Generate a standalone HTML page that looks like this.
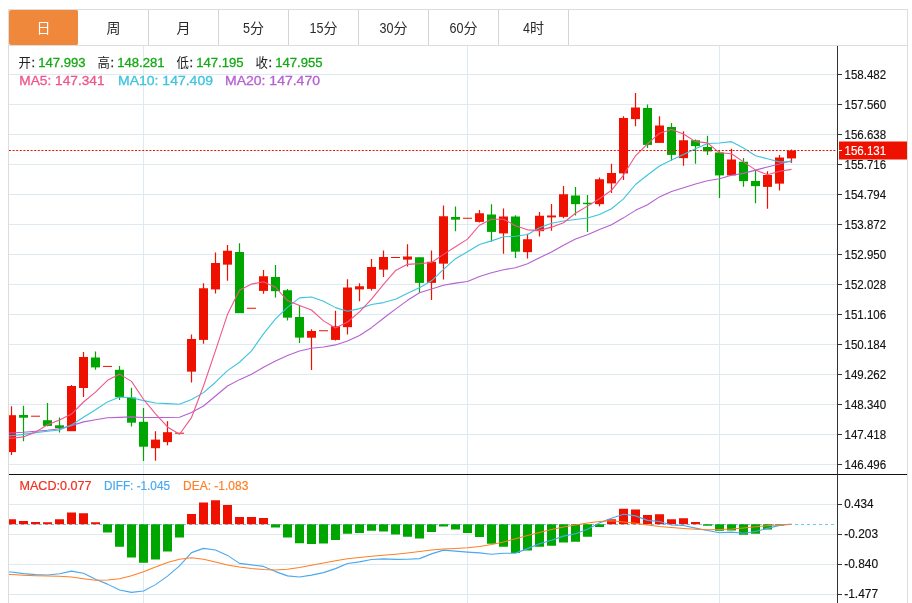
<!DOCTYPE html>
<html><head><meta charset="utf-8"><title>K</title>
<style>
html,body{margin:0;padding:0;background:#fff;}
body{width:912px;height:603px;position:relative;overflow:hidden;font-family:"Liberation Sans",sans-serif;}
#box{position:absolute;left:8px;top:9px;width:898px;height:640px;border:1px solid #ddd;}
#tabs{position:absolute;left:0;top:0;width:898px;height:35px;border-bottom:1px solid #ddd;}
.tab{position:absolute;top:0;width:69px;height:35px;border-right:1px solid #d4d4d4;}
.tab.on{background:#f0883c;border-right-color:#fff;border-radius:2px;}
</style></head><body>
<div id="box"><div id="tabs">
<div class="tab on" style="left:0px"></div>
<div class="tab" style="left:70px"></div>
<div class="tab" style="left:140px"></div>
<div class="tab" style="left:210px"></div>
<div class="tab" style="left:280px"></div>
<div class="tab" style="left:350px"></div>
<div class="tab" style="left:420px"></div>
<div class="tab" style="left:490px"></div>
</div></div>
<svg width="912" height="603" viewBox="0 0 912 603" style="position:absolute;left:0;top:0;will-change:transform">
<defs><clipPath id="cl"><rect x="9" y="46" width="828" height="557"/></clipPath></defs>
<rect x="9" y="74" width="828" height="1" fill="#dfe9f0"/>
<rect x="9" y="104" width="828" height="1" fill="#dfe9f0"/>
<rect x="9" y="134" width="828" height="1" fill="#dfe9f0"/>
<rect x="9" y="164" width="828" height="1" fill="#dfe9f0"/>
<rect x="9" y="194" width="828" height="1" fill="#dfe9f0"/>
<rect x="9" y="224" width="828" height="1" fill="#dfe9f0"/>
<rect x="9" y="254" width="828" height="1" fill="#dfe9f0"/>
<rect x="9" y="284" width="828" height="1" fill="#dfe9f0"/>
<rect x="9" y="314" width="828" height="1" fill="#dfe9f0"/>
<rect x="9" y="344" width="828" height="1" fill="#dfe9f0"/>
<rect x="9" y="374" width="828" height="1" fill="#dfe9f0"/>
<rect x="9" y="404" width="828" height="1" fill="#dfe9f0"/>
<rect x="9" y="434" width="828" height="1" fill="#dfe9f0"/>
<rect x="9" y="464" width="828" height="1" fill="#dfe9f0"/>
<rect x="9" y="504" width="828" height="1" fill="#dfe9f0"/>
<rect x="9" y="534" width="828" height="1" fill="#dfe9f0"/>
<rect x="9" y="564" width="828" height="1" fill="#dfe9f0"/>
<rect x="9" y="594" width="828" height="1" fill="#dfe9f0"/>
<rect x="143" y="46" width="1" height="557" fill="#dfe9f0"/>
<rect x="467" y="46" width="1" height="557" fill="#dfe9f0"/>
<rect x="719" y="46" width="1" height="557" fill="#dfe9f0"/>
<rect x="9" y="474" width="898" height="1" fill="#111"/>
<rect x="837" y="46" width="1" height="557" fill="#333"/>
<g clip-path="url(#cl)">
<line x1="9" y1="524.5" x2="834" y2="524.5" stroke="#6ec8eb" stroke-width="1" stroke-dasharray="3,3"/>
<rect x="10.9" y="406.3" width="1.2" height="48.7" fill="#ee1100"/>
<rect x="7" y="415.2" width="9" height="36.9" fill="#ee1100"/>
<rect x="22.9" y="405.8" width="1.2" height="35.4" fill="#00a600"/>
<rect x="19" y="415" width="9" height="2.7" fill="#00a600"/>
<rect x="31" y="415.7" width="9" height="1" fill="#ee1100"/>
<rect x="46.9" y="403" width="1.2" height="23.3" fill="#00a600"/>
<rect x="43" y="420.2" width="9" height="5.7" fill="#00a600"/>
<rect x="58.9" y="417.5" width="1.2" height="15" fill="#00a600"/>
<rect x="55" y="425.3" width="9" height="2.9" fill="#00a600"/>
<rect x="70.9" y="385" width="1.2" height="45.8" fill="#ee1100"/>
<rect x="67" y="386" width="9" height="45.2" fill="#ee1100"/>
<rect x="82.9" y="352" width="1.2" height="45" fill="#ee1100"/>
<rect x="79" y="357" width="9" height="31" fill="#ee1100"/>
<rect x="94.9" y="351.5" width="1.2" height="18.25" fill="#00a600"/>
<rect x="91" y="357.5" width="9" height="9.9" fill="#00a600"/>
<rect x="103" y="365.9" width="9" height="1" fill="#ee1100"/>
<rect x="118.9" y="366" width="1.2" height="34" fill="#00a600"/>
<rect x="115" y="369.8" width="9" height="27.4" fill="#00a600"/>
<rect x="130.9" y="387.8" width="1.2" height="38.7" fill="#00a600"/>
<rect x="127" y="397.5" width="9" height="25.2" fill="#00a600"/>
<rect x="142.9" y="408" width="1.2" height="53" fill="#00a600"/>
<rect x="139" y="421.8" width="9" height="24.9" fill="#00a600"/>
<rect x="154.9" y="431.2" width="1.2" height="29.5" fill="#ee1100"/>
<rect x="151" y="439.6" width="9" height="8.6" fill="#ee1100"/>
<rect x="166.9" y="421.2" width="1.2" height="24.1" fill="#ee1100"/>
<rect x="163" y="432.2" width="9" height="9.9" fill="#ee1100"/>
<rect x="175" y="432.7" width="9" height="1" fill="#ee1100"/>
<rect x="190.9" y="334.5" width="1.2" height="48" fill="#ee1100"/>
<rect x="187" y="339" width="9" height="32.65" fill="#ee1100"/>
<rect x="202.9" y="283.25" width="1.2" height="60.5" fill="#ee1100"/>
<rect x="199" y="288.25" width="9" height="51.65" fill="#ee1100"/>
<rect x="214.9" y="252.5" width="1.2" height="41" fill="#ee1100"/>
<rect x="211" y="263" width="9" height="26.4" fill="#ee1100"/>
<rect x="226.9" y="245" width="1.2" height="35.75" fill="#ee1100"/>
<rect x="223" y="250.75" width="9" height="13.9" fill="#ee1100"/>
<rect x="238.9" y="243.25" width="1.2" height="69.5" fill="#00a600"/>
<rect x="235" y="252" width="9" height="61.15" fill="#00a600"/>
<rect x="247" y="307.75" width="9" height="1" fill="#ee1100"/>
<rect x="262.9" y="270" width="1.2" height="23.75" fill="#ee1100"/>
<rect x="259" y="276.25" width="9" height="14.65" fill="#ee1100"/>
<rect x="274.9" y="265" width="1.2" height="32.5" fill="#00a600"/>
<rect x="271" y="277" width="9" height="14.15" fill="#00a600"/>
<rect x="286.9" y="289" width="1.2" height="31.5" fill="#00a600"/>
<rect x="283" y="290.25" width="9" height="27.4" fill="#00a600"/>
<rect x="298.9" y="305" width="1.2" height="38" fill="#00a600"/>
<rect x="295" y="317" width="9" height="20.6" fill="#00a600"/>
<rect x="310.9" y="329.25" width="1.2" height="40.75" fill="#ee1100"/>
<rect x="307" y="331" width="9" height="6.7" fill="#ee1100"/>
<rect x="319" y="330.25" width="9" height="1" fill="#ee1100"/>
<rect x="334.9" y="310.75" width="1.2" height="29.75" fill="#ee1100"/>
<rect x="331" y="326.25" width="9" height="13.65" fill="#ee1100"/>
<rect x="346.9" y="279.25" width="1.2" height="55.25" fill="#ee1100"/>
<rect x="343" y="287.5" width="9" height="39.65" fill="#ee1100"/>
<rect x="358.9" y="283.25" width="1.2" height="18" fill="#ee1100"/>
<rect x="355" y="286.25" width="9" height="3.15" fill="#ee1100"/>
<rect x="370.9" y="259" width="1.2" height="31.5" fill="#ee1100"/>
<rect x="367" y="267" width="9" height="21.9" fill="#ee1100"/>
<rect x="382.9" y="250.5" width="1.2" height="26.5" fill="#ee1100"/>
<rect x="379" y="257" width="9" height="12.65" fill="#ee1100"/>
<rect x="391" y="257" width="9" height="1" fill="#ee1100"/>
<rect x="406.9" y="244.25" width="1.2" height="22.25" fill="#ee1100"/>
<rect x="403" y="256.5" width="9" height="3.15" fill="#ee1100"/>
<rect x="418.9" y="257.25" width="1.2" height="35.25" fill="#00a600"/>
<rect x="415" y="257.25" width="9" height="25.65" fill="#00a600"/>
<rect x="430.9" y="250.5" width="1.2" height="49.5" fill="#ee1100"/>
<rect x="427" y="261.75" width="9" height="21.15" fill="#ee1100"/>
<rect x="442.9" y="205.5" width="1.2" height="74" fill="#ee1100"/>
<rect x="439" y="216.25" width="9" height="47.4" fill="#ee1100"/>
<rect x="454.9" y="206.5" width="1.2" height="24.75" fill="#00a600"/>
<rect x="451" y="217" width="9" height="2.65" fill="#00a600"/>
<rect x="463" y="217.75" width="9" height="1" fill="#ee1100"/>
<rect x="478.9" y="210" width="1.2" height="12.5" fill="#ee1100"/>
<rect x="475" y="213.25" width="9" height="8.65" fill="#ee1100"/>
<rect x="490.9" y="204.25" width="1.2" height="37.5" fill="#00a600"/>
<rect x="487" y="214.5" width="9" height="17.4" fill="#00a600"/>
<rect x="502.9" y="208.5" width="1.2" height="45.25" fill="#ee1100"/>
<rect x="499" y="216.5" width="9" height="16.9" fill="#ee1100"/>
<rect x="514.9" y="215.25" width="1.2" height="42.75" fill="#00a600"/>
<rect x="511" y="216.5" width="9" height="35.15" fill="#00a600"/>
<rect x="526.9" y="233.75" width="1.2" height="24.75" fill="#ee1100"/>
<rect x="523" y="239.25" width="9" height="12.9" fill="#ee1100"/>
<rect x="538.9" y="212" width="1.2" height="24.5" fill="#ee1100"/>
<rect x="535" y="215.75" width="9" height="15.4" fill="#ee1100"/>
<rect x="550.9" y="204" width="1.2" height="26.75" fill="#ee1100"/>
<rect x="547" y="215.5" width="9" height="1.9" fill="#ee1100"/>
<rect x="562.9" y="186" width="1.2" height="32.25" fill="#ee1100"/>
<rect x="559" y="194.25" width="9" height="22.65" fill="#ee1100"/>
<rect x="574.9" y="187" width="1.2" height="28.5" fill="#00a600"/>
<rect x="571" y="195.5" width="9" height="8.65" fill="#00a600"/>
<rect x="586.9" y="195" width="1.2" height="37" fill="#00a600"/>
<rect x="583" y="202.75" width="9" height="1.4" fill="#00a600"/>
<rect x="598.9" y="177.5" width="1.2" height="28.75" fill="#ee1100"/>
<rect x="595" y="179.25" width="9" height="24.9" fill="#ee1100"/>
<rect x="610.9" y="163.75" width="1.2" height="29.25" fill="#ee1100"/>
<rect x="607" y="173" width="9" height="10.4" fill="#ee1100"/>
<rect x="622.9" y="116.25" width="1.2" height="63.75" fill="#ee1100"/>
<rect x="619" y="118" width="9" height="55.4" fill="#ee1100"/>
<rect x="634.9" y="93" width="1.2" height="33.25" fill="#ee1100"/>
<rect x="631" y="107.5" width="9" height="11.65" fill="#ee1100"/>
<rect x="646.9" y="104.5" width="1.2" height="43.5" fill="#00a600"/>
<rect x="643" y="108" width="9" height="36.9" fill="#00a600"/>
<rect x="658.9" y="116.25" width="1.2" height="26.25" fill="#ee1100"/>
<rect x="655" y="125.5" width="9" height="17.4" fill="#ee1100"/>
<rect x="670.9" y="123" width="1.2" height="37.5" fill="#00a600"/>
<rect x="667" y="127" width="9" height="27.9" fill="#00a600"/>
<rect x="682.9" y="131.25" width="1.2" height="34.5" fill="#ee1100"/>
<rect x="679" y="140.25" width="9" height="17.9" fill="#ee1100"/>
<rect x="694.9" y="139.5" width="1.2" height="24.25" fill="#00a600"/>
<rect x="691" y="140.25" width="9" height="5.9" fill="#00a600"/>
<rect x="706.9" y="135.75" width="1.2" height="19.25" fill="#00a600"/>
<rect x="703" y="147" width="9" height="4.4" fill="#00a600"/>
<rect x="718.9" y="151.25" width="1.2" height="46.75" fill="#00a600"/>
<rect x="715" y="152.5" width="9" height="22.9" fill="#00a600"/>
<rect x="730.9" y="148.75" width="1.2" height="26.25" fill="#ee1100"/>
<rect x="727" y="159.5" width="9" height="15.9" fill="#ee1100"/>
<rect x="742.9" y="158" width="1.2" height="28.75" fill="#00a600"/>
<rect x="739" y="161.75" width="9" height="19.4" fill="#00a600"/>
<rect x="754.9" y="170" width="1.2" height="33.25" fill="#00a600"/>
<rect x="751" y="181" width="9" height="5.15" fill="#00a600"/>
<rect x="766.9" y="171.25" width="1.2" height="37.5" fill="#ee1100"/>
<rect x="763" y="175" width="9" height="11.9" fill="#ee1100"/>
<rect x="778.9" y="155" width="1.2" height="35.5" fill="#ee1100"/>
<rect x="775" y="157.5" width="9" height="26.15" fill="#ee1100"/>
<rect x="790.9" y="149.5" width="1.2" height="13.5" fill="#ee1100"/>
<rect x="787" y="150.5" width="9" height="7.9" fill="#ee1100"/>
<rect x="7" y="519.25" width="9" height="5" fill="#ee1100"/>
<rect x="19" y="521" width="9" height="3.25" fill="#ee1100"/>
<rect x="31" y="522" width="9" height="2.25" fill="#ee1100"/>
<rect x="43" y="522.25" width="9" height="2" fill="#ee1100"/>
<rect x="55" y="519.25" width="9" height="5" fill="#ee1100"/>
<rect x="67" y="512.5" width="9" height="11.75" fill="#ee1100"/>
<rect x="79" y="513.25" width="9" height="11" fill="#ee1100"/>
<rect x="91" y="522.25" width="9" height="2" fill="#ee1100"/>
<rect x="103" y="524.25" width="9" height="8.25" fill="#00a600"/>
<rect x="115" y="524.25" width="9" height="22.5" fill="#00a600"/>
<rect x="127" y="524.25" width="9" height="33.25" fill="#00a600"/>
<rect x="139" y="524.25" width="9" height="38.5" fill="#00a600"/>
<rect x="151" y="524.25" width="9" height="35.25" fill="#00a600"/>
<rect x="163" y="524.25" width="9" height="27.25" fill="#00a600"/>
<rect x="175" y="524.25" width="9" height="13.25" fill="#00a600"/>
<rect x="187" y="514" width="9" height="10.25" fill="#ee1100"/>
<rect x="199" y="502.5" width="9" height="21.75" fill="#ee1100"/>
<rect x="211" y="500.25" width="9" height="24" fill="#ee1100"/>
<rect x="223" y="505" width="9" height="19.25" fill="#ee1100"/>
<rect x="235" y="517" width="9" height="7.25" fill="#ee1100"/>
<rect x="247" y="517" width="9" height="7.25" fill="#ee1100"/>
<rect x="259" y="518" width="9" height="6.25" fill="#ee1100"/>
<rect x="271" y="524.25" width="9" height="3.25" fill="#00a600"/>
<rect x="283" y="524.25" width="9" height="13.25" fill="#00a600"/>
<rect x="295" y="524.25" width="9" height="19" fill="#00a600"/>
<rect x="307" y="524.25" width="9" height="19.75" fill="#00a600"/>
<rect x="319" y="524.25" width="9" height="19.25" fill="#00a600"/>
<rect x="331" y="524.25" width="9" height="15.75" fill="#00a600"/>
<rect x="343" y="524.25" width="9" height="9.5" fill="#00a600"/>
<rect x="355" y="524.25" width="9" height="8.75" fill="#00a600"/>
<rect x="367" y="524.25" width="9" height="6.5" fill="#00a600"/>
<rect x="379" y="524.25" width="9" height="7.25" fill="#00a600"/>
<rect x="391" y="524.25" width="9" height="10.25" fill="#00a600"/>
<rect x="403" y="524.25" width="9" height="12.5" fill="#00a600"/>
<rect x="415" y="524.25" width="9" height="14.25" fill="#00a600"/>
<rect x="427" y="524.25" width="9" height="7.75" fill="#00a600"/>
<rect x="439" y="524.25" width="9" height="2.25" fill="#00a600"/>
<rect x="451" y="524.25" width="9" height="5.25" fill="#00a600"/>
<rect x="463" y="524.25" width="9" height="8.75" fill="#00a600"/>
<rect x="475" y="524.25" width="9" height="12.75" fill="#00a600"/>
<rect x="487" y="524.25" width="9" height="19.5" fill="#00a600"/>
<rect x="499" y="524.25" width="9" height="22.5" fill="#00a600"/>
<rect x="511" y="524.25" width="9" height="28.75" fill="#00a600"/>
<rect x="523" y="524.25" width="9" height="26.25" fill="#00a600"/>
<rect x="535" y="524.25" width="9" height="22.5" fill="#00a600"/>
<rect x="547" y="524.25" width="9" height="21.5" fill="#00a600"/>
<rect x="559" y="524.25" width="9" height="18.25" fill="#00a600"/>
<rect x="571" y="524.25" width="9" height="17.5" fill="#00a600"/>
<rect x="583" y="524.25" width="9" height="12.5" fill="#00a600"/>
<rect x="595" y="524.25" width="9" height="2.75" fill="#00a600"/>
<rect x="607" y="519.25" width="9" height="5" fill="#ee1100"/>
<rect x="619" y="508.75" width="9" height="15.5" fill="#ee1100"/>
<rect x="631" y="509.5" width="9" height="14.75" fill="#ee1100"/>
<rect x="643" y="515" width="9" height="9.25" fill="#ee1100"/>
<rect x="655" y="514.25" width="9" height="10" fill="#ee1100"/>
<rect x="667" y="519.25" width="9" height="5" fill="#ee1100"/>
<rect x="679" y="518.25" width="9" height="6" fill="#ee1100"/>
<rect x="691" y="522" width="9" height="2.25" fill="#ee1100"/>
<rect x="703" y="524.25" width="9" height="1.5" fill="#00a600"/>
<rect x="715" y="524.25" width="9" height="6.5" fill="#00a600"/>
<rect x="727" y="524.25" width="9" height="6.25" fill="#00a600"/>
<rect x="739" y="524.25" width="9" height="10.5" fill="#00a600"/>
<rect x="751" y="524.25" width="9" height="9.5" fill="#00a600"/>
<rect x="763" y="524.25" width="9" height="5.25" fill="#00a600"/>
<rect x="775" y="524.25" width="9" height="1.25" fill="#00a600"/>
<polyline fill="none" stroke="#b560d0" stroke-width="1.1" stroke-linejoin="round" points="-0.50,433.30 11.50,433.00 23.50,432.30 35.50,431.30 47.50,430.30 59.50,428.80 71.50,425.60 83.50,421.90 95.50,419.80 107.50,417.70 119.50,417.40 131.50,416.90 143.50,417.50 155.50,417.50 167.50,417.50 179.50,417.30 191.50,412.60 203.50,406.00 215.50,396.00 227.50,386.00 239.50,379.63 251.50,374.28 263.50,367.23 275.50,360.96 287.50,355.54 299.50,351.01 311.50,348.26 323.50,346.95 335.50,344.91 347.50,340.97 359.50,335.44 371.50,327.68 383.50,318.21 395.50,309.11 407.50,300.32 419.50,292.78 431.50,288.92 443.50,285.32 455.50,283.13 467.50,281.51 479.50,276.53 491.50,272.70 503.50,269.71 515.50,267.74 527.50,263.83 539.50,257.76 551.50,251.99 563.50,245.16 575.50,239.04 587.50,234.85 599.50,229.50 611.50,224.80 623.50,217.85 635.50,210.35 647.50,204.75 659.50,196.90 671.50,191.54 683.50,187.74 695.50,184.06 707.50,180.70 719.50,178.79 731.50,175.19 743.50,173.40 755.50,170.12 767.50,166.91 779.50,164.00 791.50,160.75"/>
<polyline fill="none" stroke="#3cc4de" stroke-width="1.1" stroke-linejoin="round" points="-0.50,436.10 11.50,435.80 23.50,434.40 35.50,432.60 47.50,431.30 59.50,430.00 71.50,425.00 83.50,417.30 95.50,409.80 107.50,401.90 119.50,397.02 131.50,397.73 143.50,400.63 155.50,402.97 167.50,403.64 179.50,404.18 191.50,399.48 203.50,392.61 215.50,382.21 227.50,370.64 239.50,362.24 251.50,350.83 263.50,333.82 275.50,318.94 287.50,307.44 299.50,297.84 311.50,297.04 323.50,301.29 335.50,307.62 347.50,311.29 359.50,308.64 371.50,304.52 383.50,302.59 395.50,299.27 407.50,293.19 419.50,287.73 431.50,280.80 443.50,269.35 455.50,258.65 467.50,251.72 479.50,244.43 491.50,240.88 503.50,236.82 515.50,236.20 527.50,234.47 539.50,227.80 551.50,223.18 563.50,220.97 575.50,219.43 587.50,217.97 599.50,214.57 611.50,208.72 623.50,198.88 635.50,184.50 647.50,175.03 659.50,166.00 671.50,159.90 683.50,154.50 695.50,148.70 707.50,143.43 719.50,143.00 731.50,141.65 743.50,147.93 755.50,155.75 767.50,158.80 779.50,162.00 791.50,161.60"/>
<polyline fill="none" stroke="#f0558a" stroke-width="1.1" stroke-linejoin="round" points="-0.50,439.20 11.50,438.20 23.50,436.90 35.50,432.10 47.50,424.80 59.50,419.90 71.50,414.06 83.50,402.00 95.50,392.16 107.50,380.34 119.50,374.14 131.50,381.40 143.50,399.26 155.50,413.78 167.50,426.94 179.50,434.22 191.50,417.56 203.50,385.95 215.50,350.63 227.50,314.34 239.50,290.25 251.50,284.10 263.50,281.70 275.50,287.25 287.50,300.55 299.50,305.44 311.50,309.99 323.50,320.89 335.50,327.99 347.50,322.04 359.50,311.85 371.50,299.05 383.50,284.30 395.50,270.55 407.50,264.35 419.50,263.60 431.50,262.55 443.50,254.40 455.50,246.75 467.50,239.10 479.50,225.25 491.50,219.20 503.50,219.25 515.50,225.65 527.50,229.85 539.50,230.35 551.50,227.15 563.50,222.70 575.50,213.20 587.50,206.10 599.50,198.80 611.50,190.30 623.50,175.05 635.50,155.80 647.50,143.95 659.50,133.20 671.50,129.50 683.50,133.95 695.50,141.60 707.50,142.90 719.50,152.80 731.50,153.80 743.50,161.90 755.50,169.90 767.50,174.70 779.50,171.20 791.50,169.40"/>
<polyline fill="none" stroke="#4aa8f0" stroke-width="1.1" stroke-linejoin="round" points="-0.50,572.30 11.50,572.00 23.50,573.62 35.50,574.62 47.50,575.00 59.50,573.75 71.50,571.12 83.50,573.25 95.50,579.25 107.50,584.12 119.50,590.00 131.50,592.38 143.50,591.00 155.50,584.62 167.50,576.12 179.50,565.88 191.50,552.62 203.50,548.38 215.50,550.00 227.50,555.38 239.50,563.38 251.50,564.88 263.50,566.38 275.50,571.62 287.50,575.88 299.50,577.00 311.50,575.12 323.50,572.62 335.50,568.62 347.50,563.50 359.50,561.88 371.50,559.50 383.50,558.88 395.50,559.38 407.50,559.25 419.50,558.62 431.50,553.88 443.50,550.12 455.50,551.12 467.50,552.12 479.50,552.88 491.50,554.25 503.50,553.25 515.50,553.12 527.50,548.62 539.50,543.75 551.50,540.25 563.50,536.12 575.50,533.75 587.50,529.25 599.50,522.88 611.50,518.25 623.50,514.25 635.50,515.88 647.50,520.38 659.50,521.50 671.50,525.00 683.50,525.50 695.50,528.12 707.50,530.50 719.50,532.75 731.50,532.12 743.50,533.25 755.50,531.50 767.50,528.38 779.50,525.38 791.50,524.25"/>
<polyline fill="none" stroke="#ff7f27" stroke-width="1.1" stroke-linejoin="round" points="-0.50,574.40 11.50,574.50 23.50,575.25 35.50,575.75 47.50,576.00 59.50,576.25 71.50,577.00 83.50,578.75 95.50,580.25 107.50,580.00 119.50,578.75 131.50,575.75 143.50,571.75 155.50,567.00 167.50,562.50 179.50,559.25 191.50,557.75 203.50,559.25 215.50,562.00 227.50,565.00 239.50,567.00 251.50,568.50 263.50,569.50 275.50,570.00 287.50,569.25 299.50,567.50 311.50,565.25 323.50,563.00 335.50,560.75 347.50,558.75 359.50,557.50 371.50,556.25 383.50,555.25 395.50,554.25 407.50,553.00 419.50,551.50 431.50,550.00 443.50,549.00 455.50,548.50 467.50,547.75 479.50,546.50 491.50,544.50 503.50,542.00 515.50,538.75 527.50,535.50 539.50,532.50 551.50,529.50 563.50,527.00 575.50,525.00 587.50,523.00 599.50,521.50 611.50,520.75 623.50,522.00 635.50,523.25 647.50,525.00 659.50,526.50 671.50,527.50 683.50,528.50 695.50,529.25 707.50,529.75 719.50,529.50 731.50,529.00 743.50,528.00 755.50,526.75 767.50,525.75 779.50,524.75 791.50,524.25"/>
<line x1="9" y1="150.5" x2="837" y2="150.5" stroke="#ee1100" stroke-width="1" stroke-dasharray="2,1.6"/>
</g>
<rect x="839" y="141.5" width="68" height="18" fill="#ee1100"/>
<rect x="838" y="74" width="4" height="1" fill="#333"/>
<text x="844.5" y="78.5" font-family="Liberation Sans, sans-serif" font-size="12.3" stroke-width="0.15" paint-order="stroke" fill="#111" stroke="#111" textLength="41.6" lengthAdjust="spacingAndGlyphs">158.482</text>
<rect x="838" y="104" width="4" height="1" fill="#333"/>
<text x="844.5" y="108.5" font-family="Liberation Sans, sans-serif" font-size="12.3" stroke-width="0.15" paint-order="stroke" fill="#111" stroke="#111" textLength="41.6" lengthAdjust="spacingAndGlyphs">157.560</text>
<rect x="838" y="134" width="4" height="1" fill="#333"/>
<text x="844.5" y="138.5" font-family="Liberation Sans, sans-serif" font-size="12.3" stroke-width="0.15" paint-order="stroke" fill="#111" stroke="#111" textLength="41.6" lengthAdjust="spacingAndGlyphs">156.638</text>
<rect x="838" y="164" width="4" height="1" fill="#333"/>
<text x="844.5" y="168.5" font-family="Liberation Sans, sans-serif" font-size="12.3" stroke-width="0.15" paint-order="stroke" fill="#111" stroke="#111" textLength="41.6" lengthAdjust="spacingAndGlyphs">155.716</text>
<rect x="838" y="194" width="4" height="1" fill="#333"/>
<text x="844.5" y="198.5" font-family="Liberation Sans, sans-serif" font-size="12.3" stroke-width="0.15" paint-order="stroke" fill="#111" stroke="#111" textLength="41.6" lengthAdjust="spacingAndGlyphs">154.794</text>
<rect x="838" y="224" width="4" height="1" fill="#333"/>
<text x="844.5" y="228.5" font-family="Liberation Sans, sans-serif" font-size="12.3" stroke-width="0.15" paint-order="stroke" fill="#111" stroke="#111" textLength="41.6" lengthAdjust="spacingAndGlyphs">153.872</text>
<rect x="838" y="254" width="4" height="1" fill="#333"/>
<text x="844.5" y="258.5" font-family="Liberation Sans, sans-serif" font-size="12.3" stroke-width="0.15" paint-order="stroke" fill="#111" stroke="#111" textLength="41.6" lengthAdjust="spacingAndGlyphs">152.950</text>
<rect x="838" y="284" width="4" height="1" fill="#333"/>
<text x="844.5" y="288.5" font-family="Liberation Sans, sans-serif" font-size="12.3" stroke-width="0.15" paint-order="stroke" fill="#111" stroke="#111" textLength="41.6" lengthAdjust="spacingAndGlyphs">152.028</text>
<rect x="838" y="314" width="4" height="1" fill="#333"/>
<text x="844.5" y="318.5" font-family="Liberation Sans, sans-serif" font-size="12.3" stroke-width="0.15" paint-order="stroke" fill="#111" stroke="#111" textLength="41.6" lengthAdjust="spacingAndGlyphs">151.106</text>
<rect x="838" y="344" width="4" height="1" fill="#333"/>
<text x="844.5" y="348.5" font-family="Liberation Sans, sans-serif" font-size="12.3" stroke-width="0.15" paint-order="stroke" fill="#111" stroke="#111" textLength="41.6" lengthAdjust="spacingAndGlyphs">150.184</text>
<rect x="838" y="374" width="4" height="1" fill="#333"/>
<text x="844.5" y="378.5" font-family="Liberation Sans, sans-serif" font-size="12.3" stroke-width="0.15" paint-order="stroke" fill="#111" stroke="#111" textLength="41.6" lengthAdjust="spacingAndGlyphs">149.262</text>
<rect x="838" y="404" width="4" height="1" fill="#333"/>
<text x="844.5" y="408.5" font-family="Liberation Sans, sans-serif" font-size="12.3" stroke-width="0.15" paint-order="stroke" fill="#111" stroke="#111" textLength="41.6" lengthAdjust="spacingAndGlyphs">148.340</text>
<rect x="838" y="434" width="4" height="1" fill="#333"/>
<text x="844.5" y="438.5" font-family="Liberation Sans, sans-serif" font-size="12.3" stroke-width="0.15" paint-order="stroke" fill="#111" stroke="#111" textLength="41.6" lengthAdjust="spacingAndGlyphs">147.418</text>
<rect x="838" y="464" width="4" height="1" fill="#333"/>
<text x="844.5" y="468.5" font-family="Liberation Sans, sans-serif" font-size="12.3" stroke-width="0.15" paint-order="stroke" fill="#111" stroke="#111" textLength="41.6" lengthAdjust="spacingAndGlyphs">146.496</text>
<rect x="838" y="504" width="4" height="1" fill="#333"/>
<text x="844.2" y="508.1" font-family="Liberation Sans, sans-serif" font-size="12.3" stroke-width="0.15" paint-order="stroke" fill="#111" stroke="#111" textLength="29.4" lengthAdjust="spacingAndGlyphs">0.434</text>
<rect x="838" y="534" width="4" height="1" fill="#333"/>
<text x="844.2" y="538.1" font-family="Liberation Sans, sans-serif" font-size="12.3" stroke-width="0.15" paint-order="stroke" fill="#111" stroke="#111" textLength="33.9" lengthAdjust="spacingAndGlyphs">-0.203</text>
<rect x="838" y="564" width="4" height="1" fill="#333"/>
<text x="844.2" y="568.1" font-family="Liberation Sans, sans-serif" font-size="12.3" stroke-width="0.15" paint-order="stroke" fill="#111" stroke="#111" textLength="33.9" lengthAdjust="spacingAndGlyphs">-0.840</text>
<rect x="838" y="594" width="4" height="1" fill="#333"/>
<text x="844.2" y="598.1" font-family="Liberation Sans, sans-serif" font-size="12.3" stroke-width="0.15" paint-order="stroke" fill="#111" stroke="#111" textLength="33.9" lengthAdjust="spacingAndGlyphs">-1.477</text>
<rect x="838" y="150" width="4" height="1" fill="#fff"/>
<text x="844.5" y="155.3" font-family="Liberation Sans, sans-serif" font-size="12.3" stroke-width="0.15" paint-order="stroke" fill="#fff" stroke="#fff" textLength="41.6" lengthAdjust="spacingAndGlyphs">156.131</text>
<text x="36.5" y="33.2" font-family="Liberation Sans, Noto Sans CJK SC, sans-serif" font-size="14" fill="#fff">日</text>
<text x="106.5" y="33.2" font-family="Liberation Sans, Noto Sans CJK SC, sans-serif" font-size="14" fill="#2a2a2a">周</text>
<text x="176.5" y="33.2" font-family="Liberation Sans, Noto Sans CJK SC, sans-serif" font-size="14" fill="#2a2a2a">月</text>
<text x="243" y="33.3" font-family="Liberation Sans, sans-serif" font-size="14" fill="#2a2a2a" textLength="7" lengthAdjust="spacingAndGlyphs">5</text><text x="250" y="33.2" font-family="Liberation Sans, Noto Sans CJK SC, sans-serif" font-size="14" fill="#2a2a2a">分</text>
<text x="309.5" y="33.3" font-family="Liberation Sans, sans-serif" font-size="14" fill="#2a2a2a" textLength="14" lengthAdjust="spacingAndGlyphs">15</text><text x="323.5" y="33.2" font-family="Liberation Sans, Noto Sans CJK SC, sans-serif" font-size="14" fill="#2a2a2a">分</text>
<text x="379.5" y="33.3" font-family="Liberation Sans, sans-serif" font-size="14" fill="#2a2a2a" textLength="14" lengthAdjust="spacingAndGlyphs">30</text><text x="393.5" y="33.2" font-family="Liberation Sans, Noto Sans CJK SC, sans-serif" font-size="14" fill="#2a2a2a">分</text>
<text x="449.5" y="33.3" font-family="Liberation Sans, sans-serif" font-size="14" fill="#2a2a2a" textLength="14" lengthAdjust="spacingAndGlyphs">60</text><text x="463.5" y="33.2" font-family="Liberation Sans, Noto Sans CJK SC, sans-serif" font-size="14" fill="#2a2a2a">分</text>
<text x="523" y="33.3" font-family="Liberation Sans, sans-serif" font-size="14" fill="#2a2a2a" textLength="7" lengthAdjust="spacingAndGlyphs">4</text><text x="530" y="33.2" font-family="Liberation Sans, Noto Sans CJK SC, sans-serif" font-size="14" fill="#2a2a2a">时</text>
<text x="18.4" y="66.7" font-family="Liberation Sans, Noto Sans CJK SC, sans-serif" font-size="13" fill="#222" textLength="12.4" lengthAdjust="spacingAndGlyphs">开</text>
<text x="31.5" y="66.7" font-family="Liberation Sans, sans-serif" font-size="13" stroke-width="0.3" paint-order="stroke" fill="#222" stroke="#222">:</text>
<text x="38.2" y="66.7" font-family="Liberation Sans, sans-serif" font-size="13" stroke-width="0.3" paint-order="stroke" fill="#14a914" stroke="#14a914" textLength="47.4" lengthAdjust="spacingAndGlyphs">147.993</text>
<text x="97.4" y="66.7" font-family="Liberation Sans, Noto Sans CJK SC, sans-serif" font-size="13" fill="#222" textLength="12.4" lengthAdjust="spacingAndGlyphs">高</text>
<text x="110.5" y="66.7" font-family="Liberation Sans, sans-serif" font-size="13" stroke-width="0.3" paint-order="stroke" fill="#222" stroke="#222">:</text>
<text x="117.2" y="66.7" font-family="Liberation Sans, sans-serif" font-size="13" stroke-width="0.3" paint-order="stroke" fill="#14a914" stroke="#14a914" textLength="47.4" lengthAdjust="spacingAndGlyphs">148.281</text>
<text x="176.4" y="66.7" font-family="Liberation Sans, Noto Sans CJK SC, sans-serif" font-size="13" fill="#222" textLength="12.4" lengthAdjust="spacingAndGlyphs">低</text>
<text x="189.5" y="66.7" font-family="Liberation Sans, sans-serif" font-size="13" stroke-width="0.3" paint-order="stroke" fill="#222" stroke="#222">:</text>
<text x="196.2" y="66.7" font-family="Liberation Sans, sans-serif" font-size="13" stroke-width="0.3" paint-order="stroke" fill="#14a914" stroke="#14a914" textLength="47.4" lengthAdjust="spacingAndGlyphs">147.195</text>
<text x="255.4" y="66.7" font-family="Liberation Sans, Noto Sans CJK SC, sans-serif" font-size="13" fill="#222" textLength="12.4" lengthAdjust="spacingAndGlyphs">收</text>
<text x="268.5" y="66.7" font-family="Liberation Sans, sans-serif" font-size="13" stroke-width="0.3" paint-order="stroke" fill="#222" stroke="#222">:</text>
<text x="275.2" y="66.7" font-family="Liberation Sans, sans-serif" font-size="13" stroke-width="0.3" paint-order="stroke" fill="#14a914" stroke="#14a914" textLength="47.4" lengthAdjust="spacingAndGlyphs">147.955</text>
<text x="19.3" y="84.9" font-family="Liberation Sans, sans-serif" font-size="13" stroke-width="0.3" paint-order="stroke" fill="#f0558a" stroke="#f0558a" textLength="85.3" lengthAdjust="spacingAndGlyphs">MA5: 147.341</text>
<text x="118" y="84.9" font-family="Liberation Sans, sans-serif" font-size="13" stroke-width="0.3" paint-order="stroke" fill="#3cc4de" stroke="#3cc4de" textLength="95" lengthAdjust="spacingAndGlyphs">MA10: 147.409</text>
<text x="225" y="84.9" font-family="Liberation Sans, sans-serif" font-size="13" stroke-width="0.3" paint-order="stroke" fill="#b560d0" stroke="#b560d0" textLength="95" lengthAdjust="spacingAndGlyphs">MA20: 147.470</text>
<text x="19.5" y="489.5" font-family="Liberation Sans, sans-serif" font-size="12.5" stroke-width="0.2" paint-order="stroke" fill="#f03020" stroke="#f03020" textLength="72" lengthAdjust="spacingAndGlyphs">MACD:0.077</text>
<text x="104" y="489.5" font-family="Liberation Sans, sans-serif" font-size="12.5" stroke-width="0.2" paint-order="stroke" fill="#4aa8f0" stroke="#4aa8f0" textLength="66" lengthAdjust="spacingAndGlyphs">DIFF: -1.045</text>
<text x="183" y="489.5" font-family="Liberation Sans, sans-serif" font-size="12.5" stroke-width="0.2" paint-order="stroke" fill="#ff7f27" stroke="#ff7f27" textLength="65.3" lengthAdjust="spacingAndGlyphs">DEA: -1.083</text>
</svg>
</body></html>
